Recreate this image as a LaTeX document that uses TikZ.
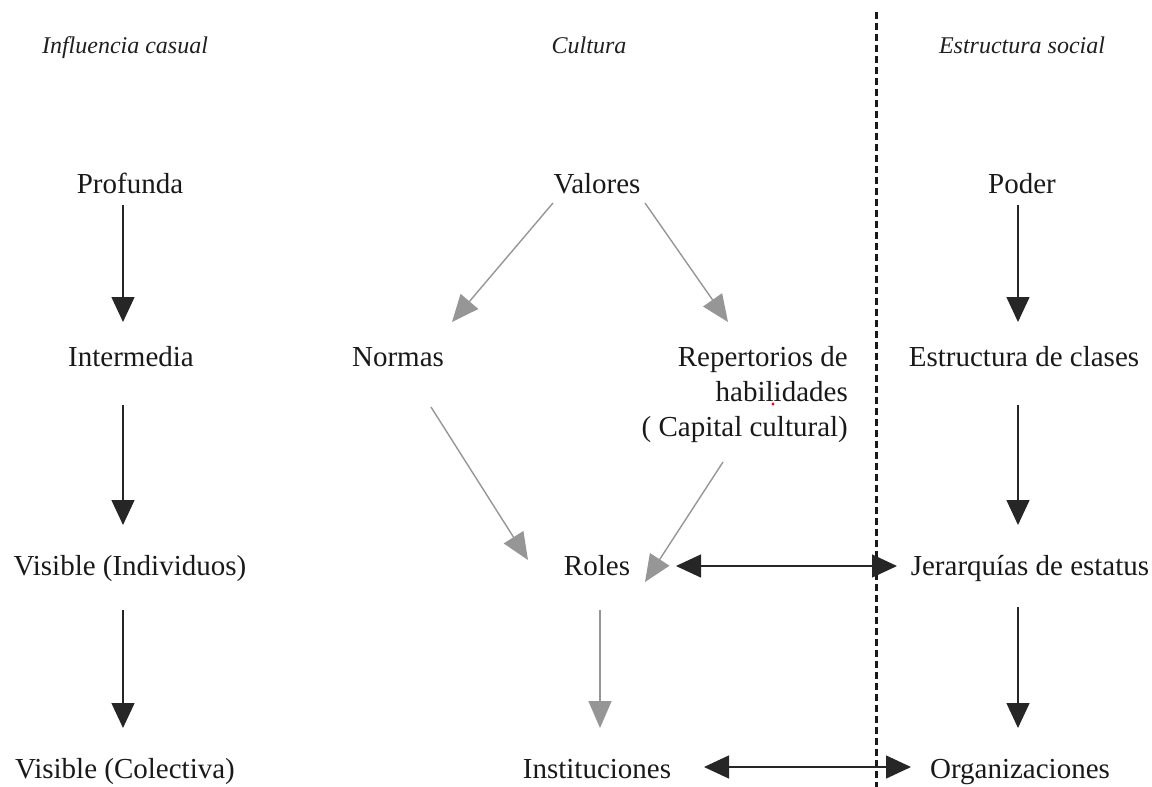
\documentclass[tikz,border=0pt]{standalone}
\usepackage{fontspec}
\IfFontExistsTF{LiberationSerif-Regular.ttf}
  {\setmainfont{LiberationSerif-Regular.ttf}[ItalicFont=LiberationSerif-Italic.ttf]}
  {\setmainfont{Liberation Serif}}
\usetikzlibrary{arrows.meta}
\definecolor{grayarr}{RGB}{150,150,150}
\tikzset{
  lbl/.style={font=\fontsize{29}{34}\selectfont, inner sep=0pt, anchor=base, text=black!90},
  hdr/.style={font=\fontsize{24}{28}\selectfont\itshape, inner sep=0pt, anchor=base, text=black!88},
  blk/.style={draw=black!85, line width=1.4pt, -{Triangle[width=23pt,length=25pt]}},
  dblk/.style={draw=black!85, line width=1.4pt, {Triangle[width=23pt,length=25pt]}-{Triangle[width=23pt,length=25pt]}},
  gry/.style={draw=grayarr, line width=1.4pt, -{Triangle[width=23pt,length=27pt]}},
  divline/.style={draw=black!90, line width=3pt, dash pattern=on 7pt off 4pt}
}
\begin{document}
\begin{tikzpicture}[x=1pt,y=-1pt]
\useasboundingbox (0,0) rectangle (1152,787);
% headers
\node[hdr] (h1) at (125,53) {Influencia casual};
\node[hdr] (h2) at (589,53) {Cultura};
\node[hdr] (h3) at (1022,53) {Estructura social};
% divider
\coordinate (dtop) at (876,12);
\coordinate (dbot) at (876,790);
\draw[divline] (dtop) -- (dbot);
% left column
\node[lbl] (prof) at (130,193) {Profunda};
\node[lbl] (inter) at (131,366) {Intermedia};
\node[lbl] (visI) at (130,575) {Visible (Individuos)};
\node[lbl] (visC) at (125,778) {Visible (Colectiva)};
% center column
\node[lbl] (val) at (597,193) {Valores};
\node[lbl] (norm) at (398,366) {Normas};
\node[lbl,anchor=base east] (rep1) at (848,366) {Repertorios de};
\node[lbl,anchor=base east] (rep2) at (848,401) {habilidades};
\node[lbl,anchor=base east] (rep3) at (848,436) {( Capital cultural)};
\node[lbl] (roles) at (597,575) {Roles};
\node[lbl] (inst) at (597,778) {Instituciones};
% right column
\node[lbl] (poder) at (1022,193) {Poder};
\node[lbl] (estr) at (1024,366) {Estructura de clases};
\node[lbl] (jer) at (1030,575) {Jerarquías de estatus};
\node[lbl] (org) at (1020,778) {Organizaciones};
% stray red dot
\fill[red] (773,404) circle (1.6pt);
% left arrows
\draw[blk] ([shift={(-7,12)}]prof.base) -- ([shift={(-8,-44)}]inter.base);
\draw[blk] ([shift={(-8,39)}]inter.base) -- ([shift={(-7,-50)}]visI.base);
\draw[blk] ([shift={(-7,35)}]visI.base) -- ([shift={(-2,-50)}]visC.base);
% right arrows
\draw[blk] ([shift={(-4,12)}]poder.base) -- ([shift={(-6,-44)}]estr.base);
\draw[blk] ([shift={(-6,39)}]estr.base) -- ([shift={(-12,-50)}]jer.base);
\draw[blk] ([shift={(-12,32)}]jer.base) -- ([shift={(-2,-50)}]org.base);
% center arrows
\draw[gry] ([shift={(-44,10)}]val.base) -- ([shift={(54,-44)}]norm.base);
\draw[gry] ([shift={(48,10)}]val.base) -- ([shift={(-120,-44)}]rep1.base east);
\draw[gry] ([shift={(33,41)}]norm.base) -- ([shift={(-69,-15)}]roles.base);
\draw[gry] ([shift={(-125,26)}]rep3.base east) -- ([shift={(48,7)}]roles.base);
\draw[gry] ([shift={(3,35)}]roles.base) -- ([shift={(3,-50)}]inst.base);
% double arrows
\draw[dblk] ([shift={(79,-9)}]roles.base) -- ([shift={(-133,-9)}]jer.base);
\draw[dblk] ([shift={(107,-11)}]inst.base) -- ([shift={(-109,-11)}]org.base);
\end{tikzpicture}
\end{document}
